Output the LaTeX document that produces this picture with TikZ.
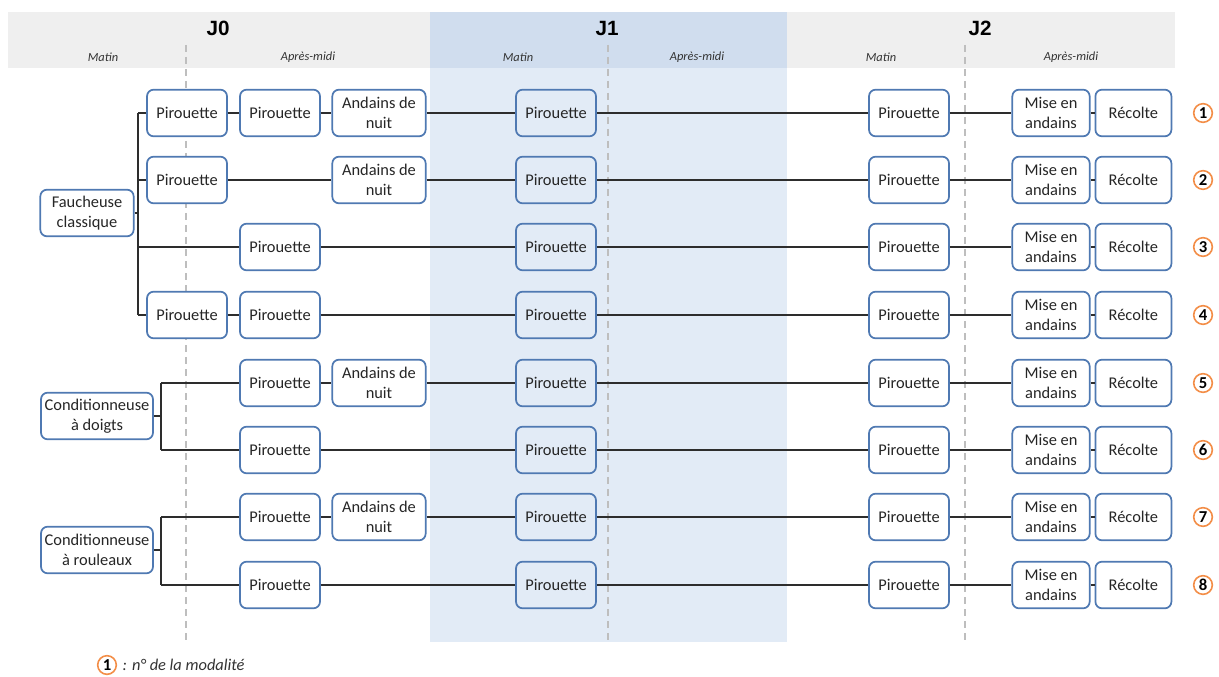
\documentclass[tikz,border=0pt]{standalone}
\usepackage{fontspec}
\setmainfont{Carlito}
\newfontfamily\headfont{Liberation Sans}
\usetikzlibrary{positioning}
\definecolor{boxblue}{RGB}{79,121,178}
\definecolor{bandgray}{RGB}{239,239,239}
\definecolor{bandblue}{RGB}{208,221,238}
\definecolor{bandlight}{RGB}{226,235,246}
\definecolor{numorange}{RGB}{243,142,72}
\definecolor{linkgray}{RGB}{45,45,45}
\definecolor{splitgray}{RGB}{190,190,190}
\tikzset{
  box/.style={draw=boxblue, line width=1.3pt, rounded corners=5pt, fill=white,
    minimum width=60pt, minimum height=35pt, inner sep=1pt, align=center,
    text=black!85, font=\fontsize{12.3}{15}\selectfont},
  widebox/.style={box, minimum width=70pt},
  condbox/.style={box, minimum width=84pt},
  link/.style={draw=linkgray, line width=1.1pt},
  daysplit/.style={draw=splitgray, line width=0.9pt, dash pattern=on 5pt off 4pt},
  dayhead/.style={font=\headfont\bfseries\fontsize{15.5}{15}\selectfont},
  halfday/.style={font=\itshape\fontsize{9.3}{9}\selectfont, text=black!80},
  num/.style={circle, draw=numorange, line width=1.2pt, minimum size=14pt, inner sep=0pt,
    font=\bfseries\fontsize{12.5}{12}\selectfont},
  legtext/.style={font=\itshape\fontsize{12.3}{12}\selectfont, text=black!80, inner sep=0pt}
}
\begin{document}
\begin{tikzpicture}[x=0.75pt, y=-0.75pt]
\useasboundingbox (0,0) rectangle (1219,677);
% bandes des jours
\fill[bandgray] (8,12) rectangle (1175,68);
\fill[bandblue] (430,12) rectangle (787,68);
\fill[bandlight] (430,68) rectangle (787,642);
\foreach \x in {186,608,965}
  \draw[daysplit] (\x,45) -- (\x,640);

% en-tetes
\node[dayhead] (j0) at (218,28) {J0};
\node[dayhead] (j1) at (607,28) {J1};
\node[dayhead] (j2) at (980,28) {J2};
\node[halfday] (j0am) at (103,57) {Matin};
\node[halfday] (j0pm) at (308,57) {Après-midi};
\node[halfday] (j1am) at (518,57) {Matin};
\node[halfday] (j1pm) at (697,57) {Après-midi};
\node[halfday] (j2am) at (881,57) {Matin};
\node[halfday] (j2pm) at (1071,57) {Après-midi};

% outils de fauche
\node[widebox] (fc) at (87,213) {Faucheuse\\classique};
\node[condbox] (cd) at (97,416) {Conditionneuse\\à doigts};
\node[condbox] (cr) at (97,550) {Conditionneuse\\à rouleaux};

% J0
\node[box] (a-1) at (187,113) {Pirouette};
\node[box] (b-1) at (280,113) {Pirouette};
\node[widebox] (c-1) at (379,113) {Andains de\\nuit};
\node[box] (a-2) at (187,180) {Pirouette};
\node[widebox] (c-2) at (379,180) {Andains de\\nuit};
\node[box] (b-3) at (280,247) {Pirouette};
\node[box] (a-4) at (187,315) {Pirouette};
\node[box] (b-4) at (280,315) {Pirouette};
\node[box] (b-5) at (280,383) {Pirouette};
\node[widebox] (c-5) at (379,383) {Andains de\\nuit};
\node[box] (b-6) at (280,450) {Pirouette};
\node[box] (b-7) at (280,517) {Pirouette};
\node[widebox] (c-7) at (379,517) {Andains de\\nuit};
\node[box] (b-8) at (280,585) {Pirouette};

% J1, J2 et numeros
\foreach \i/\y in {1/113,2/180,3/247,4/315,5/383,6/450,7/517,8/585}{
  \node[box, fill=bandlight] (j1-\i) at (556,\y) {Pirouette};
  \node[box] (j2-\i) at (909,\y) {Pirouette};
  \node[box, minimum width=58pt] (m-\i) at (1051,\y) {Mise en\\andains};
  \node[box, minimum width=57pt, right=3pt of m-\i] (r-\i) {Récolte};
  \node[num] (n-\i) at (1203,\y) {\i};
  \draw[link] (j1-\i) -- (j2-\i) (j2-\i) -- (m-\i) (m-\i) -- (r-\i);
}

% branches
\coordinate (fct) at (138,213);
\draw[link] (fc) -- (fct);
\draw[link] (fct |- a-1) -- (fct |- a-4);
\draw[link] (fct |- a-1) -- (a-1) (fct |- a-2) -- (a-2)
  (fct |- b-3) -- (b-3) (fct |- a-4) -- (a-4);
\coordinate (cdt) at (161,416);
\draw[link] (cd) -- (cdt);
\draw[link] (cdt |- b-5) -- (cdt |- b-6);
\draw[link] (cdt |- b-5) -- (b-5) (cdt |- b-6) -- (b-6);
\coordinate (crt) at (161,550);
\draw[link] (cr) -- (crt);
\draw[link] (crt |- b-7) -- (crt |- b-8);
\draw[link] (crt |- b-7) -- (b-7) (crt |- b-8) -- (b-8);

\draw[link] (a-1) -- (b-1) (b-1) -- (c-1) (c-1) -- (j1-1);
\draw[link] (a-2) -- (c-2) (c-2) -- (j1-2);
\draw[link] (b-3) -- (j1-3);
\draw[link] (a-4) -- (b-4) (b-4) -- (j1-4);
\draw[link] (b-5) -- (c-5) (c-5) -- (j1-5);
\draw[link] (b-6) -- (j1-6);
\draw[link] (b-7) -- (c-7) (c-7) -- (j1-7);
\draw[link] (b-8) -- (j1-8);

% legende
\node[num] (leg) at (107,665) {1};
\node[legtext, right=4pt of leg] (legt) {: n° de la modalité};
\end{tikzpicture}
\end{document}
